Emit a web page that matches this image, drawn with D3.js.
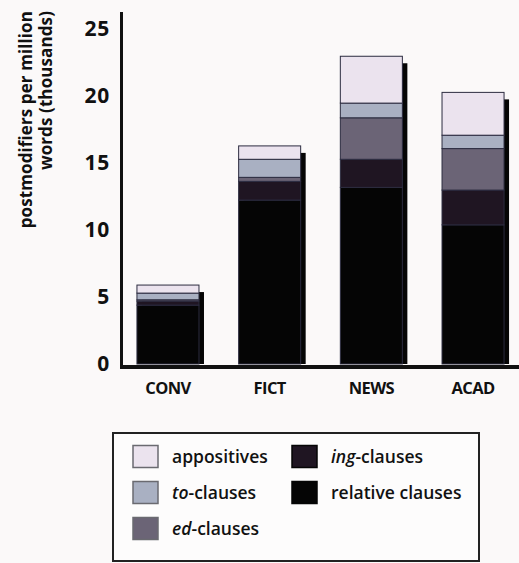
<!DOCTYPE html>
<html>
<head>
<meta charset="utf-8">
<script src="https://cdn.jsdelivr.net/npm/d3@7"></script>
<style>
  html, body { margin: 0; padding: 0; background: #fbf9f9; }
  svg { display: block; }
  text { font-family: "Open Sans", "DejaVu Sans", sans-serif; fill: #111; }
</style>
</head>
<body>
<svg id="chart" width="519" height="563"></svg>
<script>
// Postmodifier types per million words, in thousands, by register
const categories = ["CONV", "FICT", "NEWS", "ACAD"];
const relativeClauses = [4.4, 12.25, 13.2, 10.4];
const ingClauses = [0.3, 1.4, 2.1, 2.6];
const edClauses = [0.1, 0.3, 3.1, 3.1];
const toClauses = [0.5, 1.35, 1.1, 1.0];
const appositives = [0.6, 1.0, 3.5, 3.2];
const yTicks = [0, 5, 10, 15, 20, 25];

// Stack order, bottom to top
const seriesKeys = ["relative", "ing", "ed", "to", "appositives"];
const seriesValues = {
  relative: relativeClauses,
  ing: ingClauses,
  ed: edClauses,
  to: toClauses,
  appositives: appositives
};
const fills = {
  appositives: "#ebe3ee",
  to: "#a9b0c2",
  ed: "#6b6476",
  ing: "#1f1522",
  relative: "#050505"
};

const rows = categories.map((c, i) => {
  const r = { cat: c };
  seriesKeys.forEach(k => { r[k] = seriesValues[k][i]; });
  return r;
});

const svg = d3.select("#chart");

const x = d3.scaleBand()
  .domain(categories)
  .range([122, 519])
  .paddingInner(0.39)
  .paddingOuter(0.147);

const y = d3.scaleLinear()
  .domain([0, 25])
  .range([364, 29.5]);

const stacked = d3.stack().keys(seriesKeys)(rows);
const totals = rows.map(r => d3.sum(seriesKeys, k => r[k]));

// Drop shadows behind each bar
const shadowDx = 5, shadowDy = 7;
svg.append("g")
  .selectAll("rect")
  .data(rows)
  .join("rect")
  .attr("x", (d) => x(d.cat) + shadowDx)
  .attr("y", (d, i) => y(totals[i]) + shadowDy)
  .attr("width", x.bandwidth())
  .attr("height", (d, i) => y(0) - y(totals[i]) - shadowDy)
  .attr("fill", "#050505");

// Stacked segments
svg.append("g")
  .selectAll("g")
  .data(stacked)
  .join("g")
  .attr("fill", d => fills[d.key])
  .selectAll("rect")
  .data(d => d)
  .join("rect")
  .attr("x", d => x(d.data.cat))
  .attr("y", d => y(d[1]))
  .attr("width", x.bandwidth())
  .attr("height", d => y(d[0]) - y(d[1]))
  .attr("stroke", "#2c2c40")
  .attr("stroke-width", 1);

// Axes
svg.append("line")
  .attr("x1", 121.5).attr("x2", 121.5)
  .attr("y1", 12).attr("y2", 369)
  .attr("stroke", "#111").attr("stroke-width", 3);

svg.append("line")
  .attr("x1", 120).attr("x2", 519)
  .attr("y1", 367).attr("y2", 367)
  .attr("stroke", "#111").attr("stroke-width", 4);

const yAxis = d3.axisLeft(y).tickValues(yTicks).tickSize(0).tickPadding(0).tickFormat(d3.format("d"));
const yg = svg.append("g").attr("transform", "translate(110,0)").call(yAxis);
yg.select(".domain").remove();
yg.selectAll("text")
  .attr("font-size", 21)
  .attr("font-weight", 700)
  .attr("fill", "#111")
  .attr("dy", "0.3em")
  .attr("letter-spacing", "0.8")
  .style("font-family", "'Open Sans', sans-serif");

const xAxis = d3.axisBottom(x).tickSize(0).tickPadding(0);
const xg = svg.append("g").attr("transform", "translate(0,382)").call(xAxis);
xg.select(".domain").remove();
xg.selectAll("text")
  .attr("font-size", 16.5)
  .attr("font-weight", 700)
  .attr("fill", "#111")
  .attr("dy", "0.75em")
  .attr("letter-spacing", "-0.6")
  .style("font-family", "'Open Sans', sans-serif");

// Y axis title, two rotated lines
const titleLines = ["postmodifiers per million", "words (thousands)"];
const titleX = [25, 45];
svg.append("g")
  .selectAll("text")
  .data(titleLines)
  .join("text")
  .attr("transform", (d, i) => `translate(${titleX[i]},11) rotate(-90)`)
  .attr("text-anchor", "end")
  .attr("dominant-baseline", "central")
  .attr("font-size", 17)
  .attr("font-weight", 700)
  .attr("letter-spacing", "0.1")
  .text(d => d);

// Legend
const legend = svg.append("g");
legend.append("rect")
  .attr("x", 113).attr("y", 433)
  .attr("width", 366).attr("height", 128)
  .attr("fill", "#fdfcfc")
  .attr("stroke", "#222").attr("stroke-width", 2);

const legendItems = [
  { key: "appositives", pre: "", rest: "appositives", col: 0, row: 0 },
  { key: "to", pre: "to", rest: "-clauses", col: 0, row: 1 },
  { key: "ed", pre: "ed", rest: "-clauses", col: 0, row: 2 },
  { key: "ing", pre: "ing", rest: "-clauses", col: 1, row: 0 },
  { key: "relative", pre: "", rest: "relative clauses", col: 1, row: 1 }
];
const colX = [133, 292];
const rowY = [456.5, 492.5, 528.5];

const li = legend.selectAll("g.item")
  .data(legendItems)
  .join("g")
  .attr("class", "item")
  .attr("transform", d => `translate(${colX[d.col]},${rowY[d.row]})`);

li.append("rect")
  .attr("x", 0).attr("y", -11)
  .attr("width", 25).attr("height", 22)
  .attr("fill", d => fills[d.key])
  .attr("stroke", d => (d.key === "relative" || d.key === "ing") ? "#050505" : "#6a6a70")
  .attr("stroke-width", 1.5);

const lt = li.append("text")
  .attr("x", 39)
  .attr("dy", "0.35em")
  .attr("font-size", 17.5)
  .attr("font-weight", 600)
  .attr("letter-spacing", "0");
lt.append("tspan")
  .attr("font-style", "italic")
  .text(d => d.pre);
lt.append("tspan")
  .text(d => d.rest);
</script>
</body>
</html>
